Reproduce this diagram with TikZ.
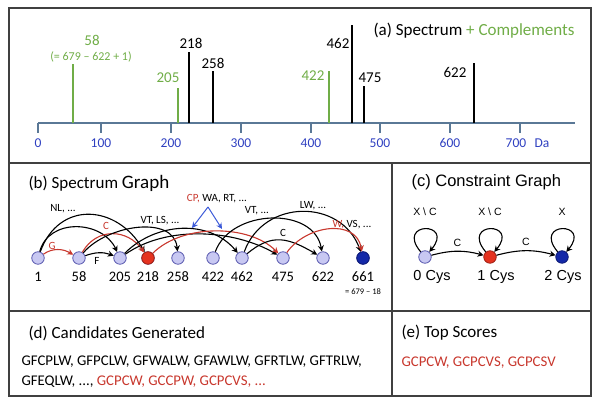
\documentclass[tikz,border=0pt]{standalone}
\usepackage{fontspec}
\setmainfont{Carlito}
\newfontfamily\arialfont{Liberation Sans}
\usetikzlibrary{positioning, arrows.meta}

\definecolor{compgreen}{HTML}{70AD47}
\definecolor{axisblue}{HTML}{5A7896}
\definecolor{tickblue}{HTML}{2E3FC0}
\definecolor{pathred}{HTML}{C8372D}
\definecolor{nodefill}{HTML}{C8C8F2}
\definecolor{nodeedge}{HTML}{5C5CB0}
\definecolor{cysred}{HTML}{E5321F}
\definecolor{cysblue}{HTML}{1428A8}
\definecolor{hintblue}{HTML}{3C5AD8}
\definecolor{framegray}{HTML}{404040}

\begin{document}
\begin{tikzpicture}[
  x=1pt, y=1pt,
  panel/.style={draw=framegray, line width=1.1pt},
  axisline/.style={axisblue, line width=2.6pt},
  tickline/.style={axisblue, line width=2.2pt},
  peakline/.style={line width=1.4pt},
  ticklabel/.style={font=\fontsize{13.5}{15}\selectfont, text=tickblue},
  peaklabel/.style={font=\fontsize{15}{17}\selectfont},
  heading/.style={anchor=west, font=\fontsize{17}{20}\selectfont},
  vertex/.style={circle, draw=nodeedge, fill=nodefill, line width=0.8pt, minimum size=12.5pt, inner sep=0pt},
  masslabel/.style={font=\fontsize{14.5}{16}\selectfont},
  edgelabel/.style={font=\fontsize{11}{12}\selectfont},
  arc/.style={-{Stealth[length=6pt,width=6pt]}, line width=1.1pt},
  redarc/.style={arc, draw=pathred},
  hint/.style={-{Stealth[length=6pt,width=6pt]}, hintblue, line width=1pt},
  cyslabel/.style={font=\arialfont\fontsize{14.5}{16}\selectfont},
  looplabel/.style={font=\arialfont\fontsize{10.5}{12}\selectfont},
  peptides/.style={anchor=west, align=left, font=\fontsize{14.8}{20}\selectfont},
]
\useasboundingbox (0,0) rectangle (600,406);

% Panels
\draw[panel] (9,10) rectangle (591,398);
\draw[panel] (9,243) -- (591,243);
\draw[panel] (9,95) -- (591,95);
\draw[panel] (392,243) -- (392,10);

% (a) Spectrum + complements
\node[heading] (titleA) at (370,375) {(a) Spectrum \textcolor{compgreen}{+ Complements}};
\draw[axisline] (38,283) -- (575,283);
\foreach \x/\v in {38/0,101/100,171/200,241/300,311/400,380/500,450/600} {
  \draw[tickline] (\x,283) -- (\x,273);
  \node[ticklabel] (tick\v) at (\x,263) {\v};
}
\draw[tickline] (520,283) -- (520,273);
\node[ticklabel] (tick700) at (516,263) {700};
\node[ticklabel] (unitDa) at (542,263) {Da};
\foreach \x/\h/\c in {73/342/compgreen,178/318/compgreen,189/354/black,213/335/black,
                     329/335/compgreen,352/381/black,364/320/black,474/343/black}
  \draw[peakline, \c] (\x,283) -- (\x,\h);
\node[peaklabel, text=compgreen] (pk58) at (92,366) {58};
\node[peaklabel, text=compgreen, font=\fontsize{12}{14}\selectfont] (pk58sum) at (91,349) {(= 679 -- 622 + 1)};
\node[peaklabel, text=compgreen] (pk205) at (168,328) {205};
\node[peaklabel] (pk218) at (191,363) {218};
\node[peaklabel] (pk258) at (213,343) {258};
\node[peaklabel, text=compgreen] (pk422) at (313,330) {422};
\node[peaklabel] (pk462) at (338,363) {462};
\node[peaklabel] (pk475) at (370,328) {475};
\node[peaklabel] (pk622) at (455,334) {622};

% (b) Spectrum graph
\node[heading] (titleB) at (25,223) {(b) Spectrum {\fontsize{19}{21}\selectfont Graph}};
\foreach \x/\m in {38/1,79/58,120/205,148/218,178/258,213/422,242/462,283/475,323/622,363/661} {
  \node[vertex] (s\m) at (\x,148) {};
  \node[masslabel] (m\m) at (\x,129) {\m};
}
\node[vertex, fill=cysred, draw=cysred!70!black] at (s218) {};
\node[vertex, fill=cysblue, draw=cysblue!70!black] at (s661) {};
\node[edgelabel, font=\fontsize{8.5}{9}\selectfont, below=0pt of m661] (m661sum) {= 679 -- 18};

\draw[redarc] (s1) to[out=35, in=150] (s58);
\draw[arc] (s58) to[out=20, in=160] (s205);
\draw[arc] (s1) to[out=75, in=115, looseness=1.16] (s205);
\draw[arc] (s1) to[out=70, in=120, looseness=1.35] (s218);
\draw[redarc] (s58) to[out=60, in=125, looseness=1.2] (s218);
\draw[arc] (s58) to[out=50, in=95, looseness=1] (s258);
\draw[arc] (s205) to[out=45, in=130, looseness=1] (s462);
\draw[arc] (s205) to[out=35, in=150, looseness=0.85] (s475);
\draw[redarc] (s218) to[out=45, in=135, looseness=0.85] (s475);
\draw[arc] (s422) to[out=70, in=100, looseness=1.1] (s622);
\draw[arc] (s462) to[out=70, in=110, looseness=1.25] (s661);
\draw[arc] (s462) to[out=40, in=150, looseness=1.2] (s622);
\draw[redarc] (s475) to[out=55, in=100, looseness=1.15] (s661);

\node[edgelabel, text=pathred] (lblG) at (52,160) {G};
\node[edgelabel] (lblF) at (97,145) {F};
\node[edgelabel] (lblNL) at (63,197) {NL, ...};
\node[edgelabel, text=pathred] (lblC) at (106,180) {C};
\node[edgelabel] (lblVTLS) at (160,185) {VT, LS, ...};
\node[edgelabel] (lblCP) at (217,207) {\textcolor{pathred}{CP,} WA, RT, ...};
\node[edgelabel] (lblVT) at (257,195) {VT, ...};
\node[edgelabel] (lblLW) at (313,200) {LW, ...};
\node[edgelabel] (lblCb) at (283,173) {C};
\node[edgelabel] (lblW) at (352,181) {\textcolor{pathred}{W,} VS, ...};
\coordinate (cpapex) at (208,199);
\coordinate (cptipa) at (192,178);
\coordinate (cptipb) at (222,177);
\draw[hint] (cpapex) -- (cptipa);
\draw[hint] (cpapex) -- (cptipb);

% (c) Constraint graph
\node[heading, font=\arialfont\fontsize{16.5}{19}\selectfont] (titleC) at (408,224) {(c) Constraint Graph};
\node[vertex] (c0) at (425,149) {};
\node[vertex, fill=cysred, draw=cysred!70!black] (c1) at (490,149) {};
\node[vertex, fill=cysblue, draw=cysblue!70!black] (c2) at (562,149) {};
\draw[arc] (c0) to[out=15, in=165] node[looplabel, above=1pt] {C} (c1);
\draw[arc] (c1) to[out=15, in=165] node[looplabel, above=1pt] {C} (c2);
\foreach \c in {c0,c1,c2}
  \draw[arc] (\c) to[out=130, in=50, min distance=40pt] (\c);
\node[looplabel] (loop0) at (425,194) {X \textbackslash{} C};
\node[looplabel] (loop1) at (490,194) {X \textbackslash{} C};
\node[looplabel] (loop2) at (562,194) {X};
\node[cyslabel] (cys0) at (432,129) {0 Cys};
\node[cyslabel] (cys1) at (496,129) {1 Cys};
\node[cyslabel] (cys2) at (563,129) {2 Cys};

% (d) Candidates and (e) top scores
\node[heading] (titleD) at (25,73) {(d) Candidates Generated};
\node[peptides] (candidates) at (18,34) {GFCPLW, GFPCLW, GFWALW, GFAWLW, GFRTLW, GFTRLW,\\
  GFEQLW, ..., \textcolor{pathred}{GCPCW, GCCPW, GCPCVS, ...}};
\node[heading] (titleE) at (398,73) {(e) Top Scores};
\node[peptides, text=pathred] (topscores) at (398,43) {GCPCW, GCPCVS, GCPCSV};
\end{tikzpicture}
\end{document}
